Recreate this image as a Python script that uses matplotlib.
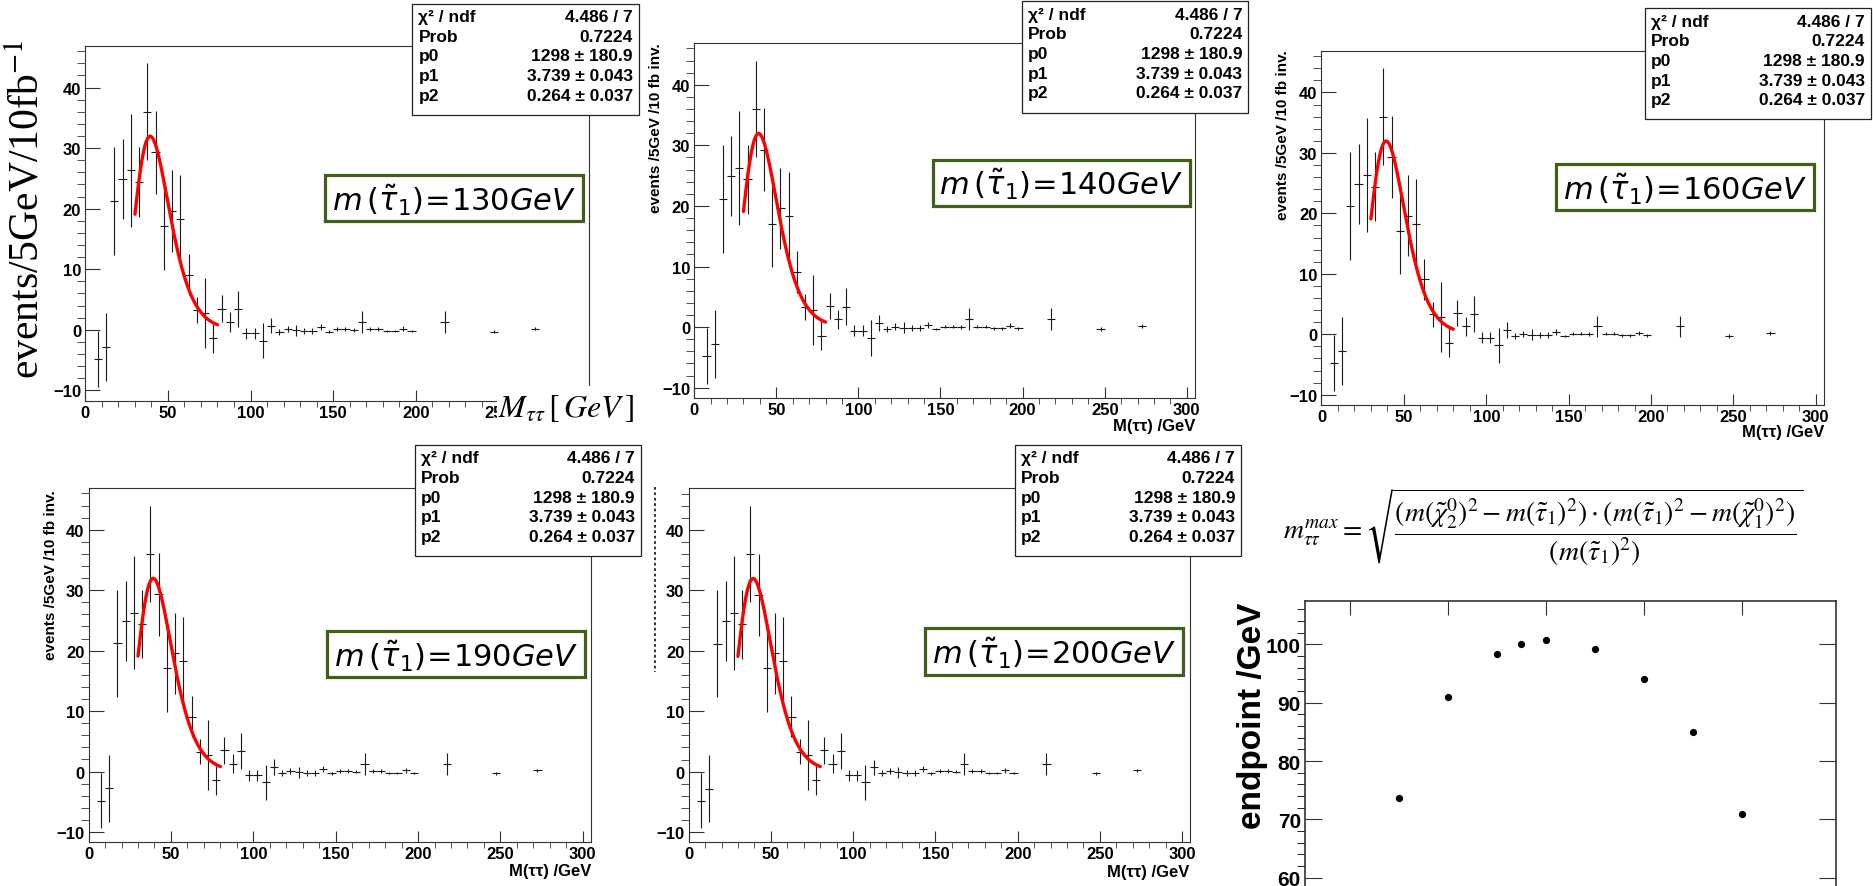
import numpy as np
import matplotlib.pyplot as plt
from matplotlib.patches import Rectangle
from matplotlib.lines import Line2D
from matplotlib.ticker import MultipleLocator

plt.rcParams['font.family'] = ['Liberation Sans', 'DejaVu Sans']

W, H = 1874, 887

# M(tau tau) histogram, 5 GeV bins (same sample in every panel)
bin_centers = [7.5, 12.5, 17.5, 22.5, 27.5, 32.5, 37.5, 42.5, 47.5, 52.5,
               57.5, 62.5, 67.5, 72.5, 77.5, 82.5, 87.5, 92.5, 97.5, 102.5,
               107.5, 112.5, 117.5, 122.5, 127.5, 132.5, 137.5, 142.5, 147.5, 152.5,
               157.5, 162.5, 167.5, 172.5, 177.5, 182.5, 187.5, 192.5, 197.5, 217.5,
               247.5, 272.5]
counts = [-4.8, -2.8, 21.2, 24.9, 26.3, 24.4, 36.0, 29.3, 17.1, 19.6,
          18.3, 9.1, 3.3, 2.8, -1.4, 3.5, 1.3, 3.4, -0.6, -0.6,
          -1.8, 0.7, -0.3, 0.1, -0.1, -0.2, -0.2, 0.4, -0.3, 0.1,
          0.1, 0.0, 1.3, 0.1, 0.1, -0.2, -0.2, 0.2, -0.2, 1.3,
          -0.3, 0.2]
count_errors = [4.6, 5.6, 8.9, 6.6, 9.4, 5.7, 8.0, 6.8, 7.2, 6.7,
                7.3, 3.4, 2.1, 5.8, 2.4, 2.2, 1.6, 3.0, 0.9, 0.9,
                2.9, 1.3, 0.5, 0.5, 0.9, 0.5, 0.5, 0.5, 0.2, 0.3,
                0.3, 0.3, 1.8, 0.3, 0.3, 0.2, 0.2, 0.4, 0.2, 1.8,
                0.3, 0.3]
bin_half_width = 2.5

# log-normal fit result
fit_p0, fit_p1, fit_p2 = 1298.0, 3.739, 0.264
fit_lo, fit_hi = 30.0, 80.0
stat_names = ['χ² / ndf', 'Prob', 'p0', 'p1', 'p2']
stat_values = ['4.486 / 7', '0.7224', '1298 ± 180.9', '3.739 ± 0.043', '0.264 ± 0.037']

stau_masses = [130, 140, 160, 190, 200]

# fitted endpoint vs stau mass
endpoint_mstau = [110, 120, 130, 135, 140, 150, 160, 170, 180]
endpoint_values = [73.7, 91.0, 98.3, 100.1, 100.7, 99.1, 94.0, 84.9, 71.0]


def rect(left, top, right, bottom):
    return [left / W, 1 - bottom / H, (right - left) / W, (bottom - top) / H]


def fx(px):
    return px / W


def fy(py):
    return 1 - py / H


def fig_rect(fig, left, top, right, bottom, **kw):
    r = Rectangle((fx(left), fy(bottom)), (right - left) / W, (bottom - top) / H,
                  transform=fig.transFigure, **kw)
    fig.add_artist(r)
    return r


def bold_ticklabels(ax):
    for lab in ax.get_xticklabels() + ax.get_yticklabels():
        lab.set_fontweight('bold')


def draw_hist_panel(fig, box, stats_box, label_box, mass):
    ax = fig.add_axes(rect(*box))
    ax.errorbar(bin_centers, counts, yerr=count_errors, xerr=bin_half_width,
                fmt='none', ecolor='#1a1a1a', elinewidth=0.8, capsize=0)
    xs = np.linspace(fit_lo, fit_hi, 300)
    fit = fit_p0 / xs * np.exp(-0.5 * ((np.log(xs) - fit_p1) / fit_p2) ** 2)
    ax.plot(xs, fit, color='#ff0000', lw=2.4, solid_capstyle='round')
    ax.set_xlim(0, 305)
    ax.set_ylim(-11.7, 46.9)
    ax.xaxis.set_major_locator(MultipleLocator(50))
    ax.xaxis.set_minor_locator(MultipleLocator(10))
    ax.yaxis.set_major_locator(MultipleLocator(10))
    ax.yaxis.set_minor_locator(MultipleLocator(2))
    ax.tick_params(direction='in', top=False, right=False, labelsize=12,
                   colors='black', pad=3)
    ax.tick_params(axis='x', which='major', length=7.9, color='#333')
    ax.tick_params(axis='x', which='minor', length=4.2, color='#333')
    ax.tick_params(axis='y', which='major', length=10.5, color='#333')
    ax.tick_params(axis='y', which='minor', length=5.5, color='#333')
    for sp in ax.spines.values():
        sp.set_color('#333')
        sp.set_linewidth(0.8)
    bold_ticklabels(ax)

    # fit statistics box
    l, t, r, b = stats_box
    fig_rect(fig, l, t, r, b, facecolor='white', edgecolor='#222', lw=0.9, zorder=5)
    for i, (name, val) in enumerate(zip(stat_names, stat_values)):
        yy = t + 13 + 19.6 * i
        fig.text(fx(l + 6), fy(yy), name, ha='left', va='center', fontsize=12.5,
                 fontweight='bold', zorder=6)
        fig.text(fx(r - 6), fy(yy), val, ha='right', va='center', fontsize=12.5,
                 fontweight='bold', zorder=6)

    # stau mass label
    l, t, r, b = label_box
    fig_rect(fig, l, t, r, b, facecolor='white', edgecolor='#40601a', lw=2.3, zorder=5)
    fig.text(fx((l + r) / 2), fy((t + b) / 2 + 1),
             r'$m\,(\tilde{\tau}_{1})\!=\!%d\mathit{GeV}$' % mass,
             ha='center', va='center', fontsize=22,
             math_fontfamily='dejavusans', zorder=6)
    return ax


fig = plt.figure(figsize=(W / 100, H / 100), dpi=100)

panels = [
    ((85.4, 46.7, 589, 401.7), (412.5, 4.7, 639, 115.7), (325, 175.7, 583.4, 222.3)),
    ((694.2, 44, 1195, 399), (1021.7, 2.3, 1248.3, 114), (932.6, 160.7, 1189.6, 206.7)),
    ((1321.5, 51.7, 1824, 406), (1645, 9.3, 1871, 120), (1556.4, 165, 1814, 211)),
    ((88.6, 489, 591, 843.3), (415, 446, 641, 557.3), (327.4, 631.7, 585.2, 678.3)),
    ((688.6, 489.3, 1190.4, 843.3), (1015, 446, 1241, 557.3), (925.2, 629.3, 1183, 676)),
]
for (box, sbox, lbox), mass in zip(panels, stau_masses):
    draw_hist_panel(fig, box, sbox, lbox, mass)

# axis titles
ytitle = 'events /5GeV /10 fb inv.'
for x, top in [(655.8, 43), (1283.5, 50), (51.4, 490)]:
    fig.text(fx(x), fy(top), ytitle, rotation=90, ha='center', va='top',
             fontsize=11, fontweight='bold')
xtitle = 'M(ττ) /GeV'
for right, yc in [(1195.5, 426.7), (1824, 433), (591, 871.7), (1189, 872.7)]:
    fig.text(fx(right), fy(yc), xtitle, ha='right', va='center', fontsize=12,
             fontweight='bold')

# large serif titles on the first panel
fig.text(fx(27.7), fy(40), r'events/5GeV/10fb$^{\mathrm{-1}}$', rotation=90,
         ha='center', va='top', fontsize=30,
         family='Liberation Serif', math_fontfamily='stix')
fig_rect(fig, 496.7, 387, 660, 440, facecolor='white', edgecolor='none', zorder=4)
fig.text(fx(498), fy(416.7), r'$M_{\tau\tau}\,[\,GeV\,]$', ha='left', va='baseline',
         fontsize=23, math_fontfamily='stix', zorder=6)

# placeholder of the hidden y title on the last histogram
fig.add_artist(Line2D([fx(654.7), fx(654.7)], [fy(488), fy(673)], transform=fig.transFigure,
                      color='#222', lw=1.3, ls=(0, (1.5, 1.5))))

# kinematic endpoint formula
formula = (r'$m_{\tau\tau}^{max}=\sqrt{\dfrac{(m(\tilde{\chi}_2^0)^2-m(\tilde{\tau}_1)^2)'
           r'\cdot(m(\tilde{\tau}_1)^2-m(\tilde{\chi}_1^0)^2)}{(m(\tilde{\tau}_1)^2)}}$')
fig.text(fx(1283), fy(527.5), formula, ha='left', va='center', fontsize=20,
         math_fontfamily='stix')

# endpoint vs stau mass
ax = fig.add_axes(rect(1305, 602, 1835.6, 887))
ax.plot(endpoint_mstau, endpoint_values, 'o', color='black', ms=4.2)
ax.set_xlim(90.9, 199)
ax.set_ylim(58.6, 107.4)
ax.xaxis.set_major_locator(MultipleLocator(20))
ax.xaxis.set_minor_locator(MultipleLocator(5))
ax.yaxis.set_major_locator(MultipleLocator(10))
ax.yaxis.set_minor_locator(MultipleLocator(2))
ax.tick_params(direction='in', top=True, bottom=False, left=True, right=True,
               labelbottom=False, labeltop=False, color='#333', pad=3)
ax.tick_params(axis='x', which='major', length=9.9)
ax.tick_params(axis='x', which='minor', length=4.8)
ax.tick_params(axis='y', which='major', length=12.2)
ax.tick_params(axis='y', which='minor', length=5.8)
ax.spines['bottom'].set_visible(False)
for s in ['top', 'left', 'right']:
    ax.spines[s].set_color('#333')
    ax.spines[s].set_linewidth(1.2)
for lab in ax.get_yticklabels():
    lab.set_family(['Liberation Sans Narrow', 'Liberation Sans'])
    lab.set_fontsize(15)
    lab.set_fontweight('bold')
fig.text(fx(1252), fy(603), 'endpoint /GeV', rotation=90, ha='center', va='top',
         fontsize=24, fontweight='bold')

fig.savefig('out.png', dpi=100)
